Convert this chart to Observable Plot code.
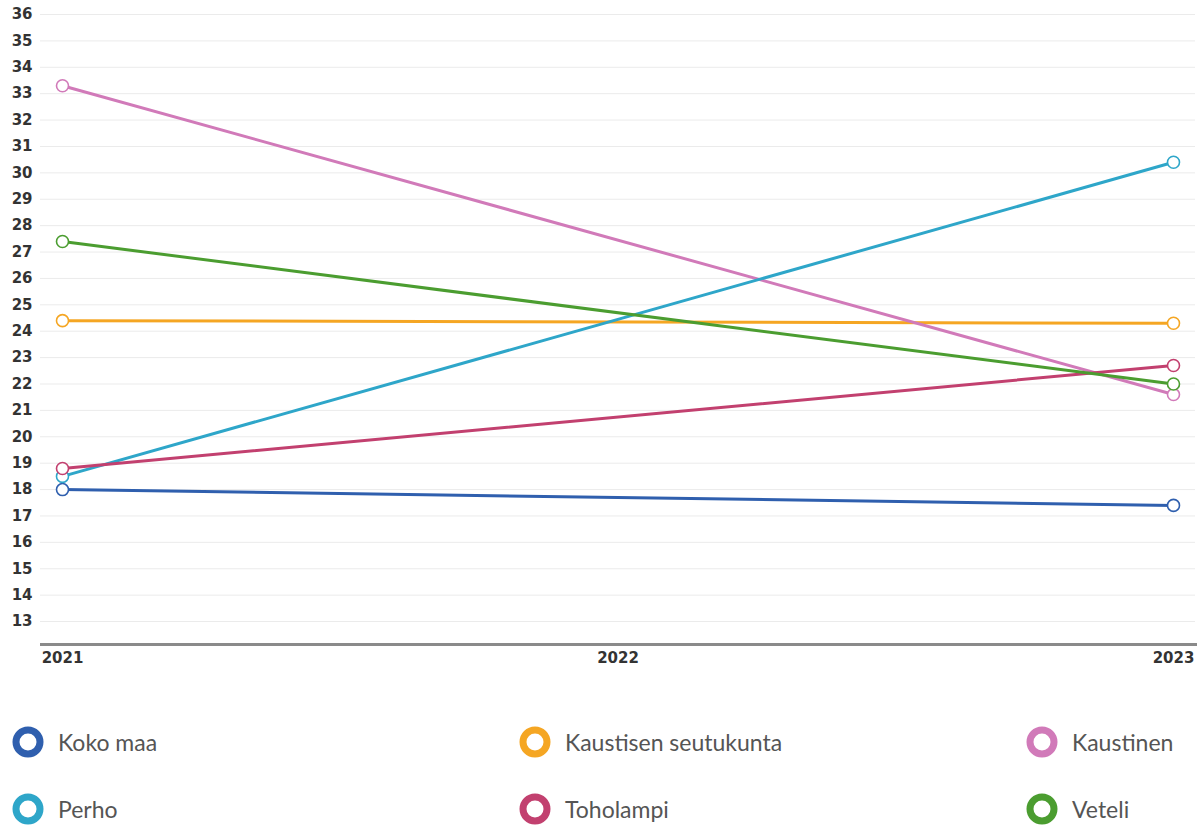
<!DOCTYPE html>
<html>
<head>
<meta charset="utf-8">
<script src="https://cdn.jsdelivr.net/npm/d3@7"></script>
<script src="https://cdn.jsdelivr.net/npm/@observablehq/plot@0.6"></script>
<style>
  body { margin: 0; background: #fff; }
  #chart { position: relative; width: 1202px; height: 827px; }
  .legend-item { position: absolute; display: flex; align-items: center; font-family: Lato, "Open Sans", sans-serif; font-size: 23px; color: #555; }
  .legend-item svg { margin-right: 14px; }
</style>
</head>
<body>
<div id="chart"></div>
<script>
const years = [2021, 2023];
const xTicks = [2021, 2022, 2023];
const yTicks = d3.range(13, 37);
const seriesNames = ["Koko maa", "Kaustisen seutukunta", "Kaustinen", "Perho", "Toholampi", "Veteli"];
const seriesColors = ["#2f5fae", "#f5a623", "#d17ab9", "#2ea6c9", "#c2406f", "#4b9d30"];
const kokoMaa = [18.0, 17.4];
const kaustisenSeutukunta = [24.4, 24.3];
const kaustinen = [33.3, 21.6];
const perho = [18.5, 30.4];
const toholampi = [18.8, 22.7];
const veteli = [27.4, 22.0];
const seriesValues = [kokoMaa, kaustisenSeutukunta, kaustinen, perho, toholampi, veteli];

const data = seriesNames.flatMap((name, i) =>
  years.map((year, j) => ({ name, year, value: seriesValues[i][j] })));

const yMin = 12.13, yMax = 36;

const plot = Plot.plot({
  width: 1202,
  height: 680,
  marginTop: 14,
  marginBottom: 36,
  marginLeft: 62,
  marginRight: 29,
  x: { domain: [2021, 2023] },
  y: { domain: [yMin, yMax] },
  color: { domain: seriesNames, range: seriesColors },
  style: { fontFamily: "DejaVu Sans, sans-serif" },
  marks: [
    Plot.ruleY(yTicks, { stroke: "#ebebeb", strokeWidth: 1, insetLeft: -22, insetRight: -22 }),
    Plot.axisY({ ticks: yTicks, tickSize: 0, tickPadding: 0, dx: -30, fontSize: 15, fontWeight: "bold", fill: "#333", label: null, textAnchor: "end" }),
    Plot.axisX({ ticks: xTicks, tickSize: 0, tickPadding: 8, tickFormat: d => String(d), fontSize: 15, fontWeight: "bold", fill: "#333", label: null }),
    Plot.ruleY([yMin], { stroke: "#8a8a8a", strokeWidth: 3, insetLeft: -22, insetRight: -24 }),
    Plot.line(data, { x: "year", y: "value", z: "name", stroke: "name", strokeWidth: 3 }),
    Plot.dot(data, { x: "year", y: "value", stroke: "name", fill: "white", r: 6, strokeWidth: 1.6 })
  ]
});
const chart = document.getElementById("chart");
chart.appendChild(plot);

const colLeft = [12, 519, 1026];
const rowTop = [726, 793];
seriesNames.forEach((name, i) => {
  const item = document.createElement("div");
  item.className = "legend-item";
  item.style.left = colLeft[i % 3] + "px";
  item.style.top = rowTop[Math.floor(i / 3)] + "px";
  item.innerHTML = `<svg width="32" height="32"><circle cx="16" cy="16" r="12" fill="white" stroke="${seriesColors[i]}" stroke-width="7"/></svg><span>${name}</span>`;
  chart.appendChild(item);
});
</script>
</body>
</html>
